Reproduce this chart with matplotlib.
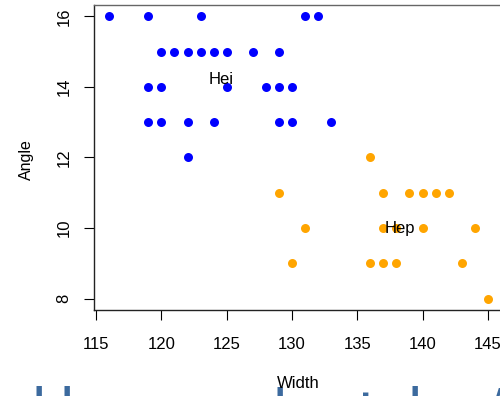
import matplotlib
matplotlib.use("Agg")
import matplotlib.pyplot as plt

# Hei group
hei_width = [116, 119, 123, 131, 132,
             120, 121, 122, 123, 124, 125, 127, 129,
             119, 120, 125, 128, 129, 130,
             119, 120, 122, 124, 129, 130, 133,
             122]
hei_angle = [16, 16, 16, 16, 16,
             15, 15, 15, 15, 15, 15, 15, 15,
             14, 14, 14, 14, 14, 14,
             13, 13, 13, 13, 13, 13, 13,
             12]

# Hep group
hep_width = [136,
             129, 137, 139, 140, 141, 142,
             131, 137, 138, 140, 144,
             130, 136, 137, 138, 143,
             145]
hep_angle = [12,
             11, 11, 11, 11, 11, 11,
             10, 10, 10, 10, 10,
             9, 9, 9, 9, 9,
             8]

group_labels = ["Hei", "Hep"]
label_x = [124.6, 138.3]
label_y = [14.2, 10.0]

x_ticks = [115, 120, 125, 130, 135, 140, 145]
y_ticks = [8, 10, 12, 14, 16]

W, H = 500, 396
FONT = "Liberation Sans"
fig = plt.figure(figsize=(W / 100, H / 100), dpi=100)
ax = fig.add_axes([94 / W, (H - 310) / H, (503 - 94) / W, (310 - 5) / H])

ax.scatter(hei_width, hei_angle, s=42, color="#0000ff", linewidths=0, zorder=3)
ax.scatter(hep_width, hep_angle, s=42, color="#ffa500", linewidths=0, zorder=3)
for lab, x, y in zip(group_labels, label_x, label_y):
    ax.text(x, y, lab, ha="center", va="center", fontsize=12,
            family=FONT, zorder=4)

ax.set_xlim(114.84, 146.16)
ax.set_ylim(7.68, 16.32)
ax.set_xticks(x_ticks)
ax.set_yticks(y_ticks)
ax.tick_params(direction="out", length=7.2, width=0.8, labelsize=12)
ax.tick_params(axis="x", pad=12)
ax.tick_params(axis="y", pad=9, labelrotation=90)
for t in ax.get_yticklabels():
    t.set_va("center")
for t in ax.get_xticklabels() + ax.get_yticklabels():
    t.set_family(FONT)
for sp in ax.spines.values():
    sp.set_linewidth(1.0)
    sp.set_color("#222222")
ax.spines["top"].set_color("#666666")

fig.text(26 / W, 1 - 160 / H, "Angle", rotation=90, ha="center", va="center",
         fontsize=11.5, family=FONT)
fig.text(298 / W, 1 - 383 / H, "Width", ha="center", va="center",
         fontsize=12, family=FONT, zorder=5)

# tops of a page heading cut off at the bottom edge
frag_x = [38.5, 66.5, 280, 367, 414.5, 497]
frag_y = [386, 386, 387, 391, 386, 387]
frag_s = ["l", "l", "l", "t", "l", "/"]
for x, y, s in zip(frag_x, frag_y, frag_s):
    fig.text(x / W, 1 - y / H, s, ha="center", va="top", fontsize=22,
             color="#3c6a9e", family="DejaVu Sans", fontweight="bold", zorder=1)

fig.savefig("out.png", dpi=100)
